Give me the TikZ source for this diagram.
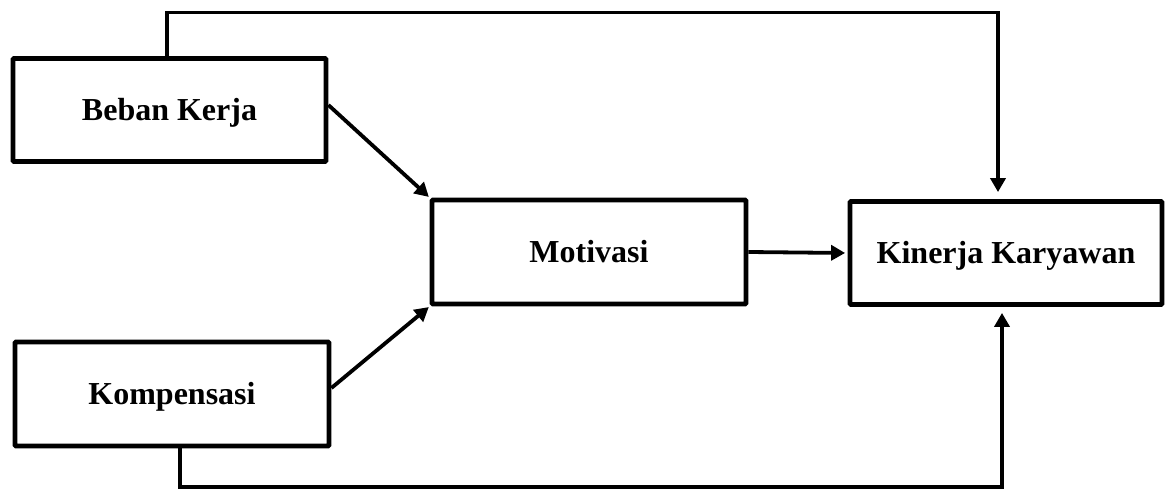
\documentclass[tikz,border=0pt]{standalone}
\usepackage{fontspec}
\setmainfont{Liberation Serif}
\usetikzlibrary{arrows.meta}
\begin{document}
\begin{tikzpicture}[x=1pt,y=-1pt,
  box/.style={draw=black,line width=4.8pt,rectangle,rounded corners=1pt,inner sep=0pt,
    text height=21pt,text depth=0pt,
    font=\fontsize{32}{38}\selectfont\bfseries,text=black},
  conn/.style={draw=black,line width=3.8pt},
  arr/.style={conn,-{Triangle[length=14pt,width=15pt]}}]
\useasboundingbox (0,0) rectangle (1165,489);
\node[box,minimum width=313pt,minimum height=103pt] (beban) at (169.5,110) {Beban Kerja};
\node[box,minimum width=314pt,minimum height=104pt] (mot) at (589,252) {Motivasi};
\node[box,minimum width=312pt,minimum height=103pt] (kin) at (1006,253) {Kinerja Karyawan};
\node[box,minimum width=314pt,minimum height=104pt] (komp) at (172,394) {Kompensasi};
\coordinate (c1) at (167,12.5);
\coordinate (c2) at (998,12.5);
\coordinate (c3) at (180,487);
\coordinate (c4) at (1002,487);
\draw[arr,shorten >=7pt] (beban.north -| c1) -- (c1) -- (c2) -- (c2 |- kin.north);
\draw[arr,shorten >=1pt] ([yshift=5pt]beban.east) -- (mot.north west);
\draw[arr,shorten >=1pt] ([yshift=6pt]komp.east) -- (mot.south west);
\draw[arr,shorten >=2.5pt] (mot.east) -- (kin.west);
\draw[arr,shorten >=6pt] (komp.south -| c3) -- (c3) -- (c4) -- (c4 |- kin.south);
\end{tikzpicture}
\end{document}
